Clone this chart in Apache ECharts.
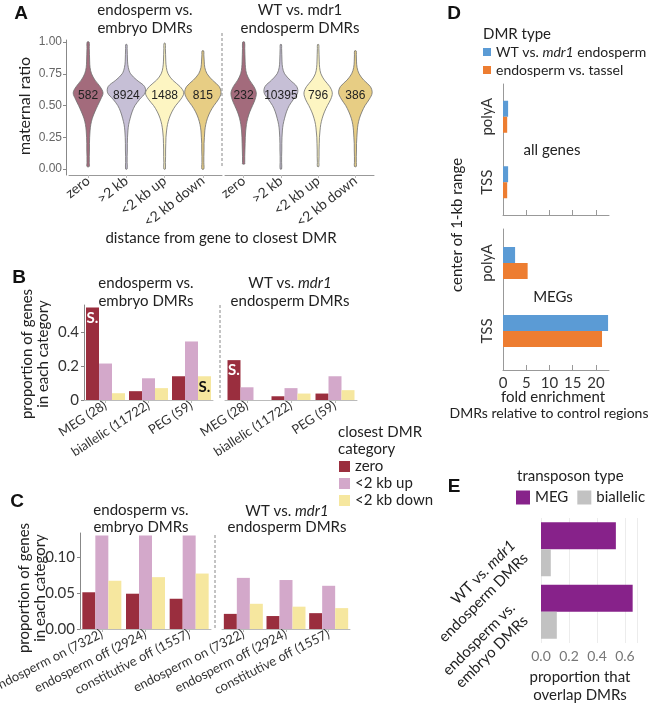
<!DOCTYPE html>
<html><head><meta charset="utf-8">
<script src="https://cdn.jsdelivr.net/npm/echarts@6/dist/echarts.min.js"></script>
<style>html,body{margin:0;padding:0;background:#fff}#c{width:652px;height:721px}</style>
</head><body><div id="c"></div>
<script>
const FONT = 'Lato, "Open Sans", sans-serif';
const NUM = '"Liberation Sans", Arial, sans-serif';

// ---------- Panel A: violins ----------
const violinCats = ['zero', '>2 kb', '<2 kb up', '<2 kb down'];
const violinLevels = [0,0.05,0.1,0.15,0.2,0.25,0.3,0.35,0.4,0.45,0.5,0.55,0.6,0.65,0.7,0.75,0.8,0.85,0.9,0.95,1.0];
const countsEmbryo = [582, 8924, 1488, 815];
const countsMdr1 = [232, 10395, 796, 386];
const rangeEmbryo = [[0.02,1.0],[0.0,0.98],[0.0,0.99],[0.0,0.93]];
const rangeMdr1 = [[0.04,1.0],[0.0,0.98],[0.02,0.98],[0.02,0.93]];
const densEmbryoZero = [0.06,0.06,0.06,0.07,0.07,0.08,0.10,0.14,0.22,0.35,0.50,0.66,0.78,0.62,0.36,0.18,0.10,0.08,0.07,0.06,0.05];
const densEmbryoFar  = [0.04,0.04,0.04,0.05,0.05,0.06,0.08,0.12,0.20,0.30,0.45,0.70,0.98,0.95,0.55,0.22,0.10,0.06,0.05,0.04,0.03];
const densEmbryoUp   = [0.04,0.04,0.05,0.05,0.06,0.07,0.10,0.15,0.24,0.38,0.58,0.85,1.00,0.80,0.42,0.18,0.09,0.06,0.05,0.04,0.03];
const densEmbryoDown = [0.05,0.05,0.05,0.06,0.06,0.08,0.10,0.15,0.24,0.38,0.58,0.82,0.95,0.85,0.50,0.22,0.10,0.07,0.05,0.04,0.03];
const densMdr1Zero = [0.06,0.06,0.06,0.07,0.08,0.09,0.11,0.15,0.22,0.33,0.48,0.62,0.68,0.55,0.32,0.16,0.10,0.08,0.07,0.06,0.05];
const densMdr1Far  = [0.04,0.04,0.04,0.05,0.05,0.06,0.08,0.12,0.20,0.30,0.45,0.68,0.90,0.85,0.50,0.20,0.09,0.06,0.05,0.04,0.03];
const densMdr1Up   = [0.04,0.04,0.05,0.05,0.06,0.07,0.10,0.14,0.22,0.34,0.50,0.68,0.76,0.62,0.34,0.15,0.08,0.06,0.05,0.04,0.03];
const densMdr1Down = [0.05,0.05,0.05,0.06,0.06,0.08,0.10,0.14,0.22,0.35,0.52,0.75,0.90,0.80,0.45,0.20,0.09,0.06,0.05,0.04,0.03];
const countLabelY = 0.58;
const violinColors = ['#a36b7c', '#c6bfd6', '#fdf5c2', '#e7cd84'];

// ---------- Panel B ----------
const geneClasses = ['MEG (28)', 'biallelic (11722)', 'PEG (59)'];
const closestCats = ['zero', '<2 kb up', '<2 kb down'];
const bEmbryoZero = [0.545, 0.052, 0.14];
const bEmbryoUp   = [0.215, 0.128, 0.345];
const bEmbryoDown = [0.04, 0.07, 0.14];
const bMdr1Zero = [0.235, 0.022, 0.038];
const bMdr1Up   = [0.075, 0.07, 0.14];
const bMdr1Down = [0, 0.038, 0.058];
const bSigEmbryo = [['zero', 0], ['<2 kb down', 2]];
const bSigMdr1 = [['zero', 0]];

// ---------- Panel C ----------
const expClasses = ['endosperm on (7322)', 'endosperm off (2924)', 'constitutive off (1557)'];
const cEmbryoZero = [0.051, 0.049, 0.042];
const cEmbryoUp   = [0.13, 0.13, 0.13];
const cEmbryoDown = [0.067, 0.072, 0.077];
const cMdr1Zero = [0.021, 0.018, 0.022];
const cMdr1Up   = [0.071, 0.068, 0.060];
const cMdr1Down = [0.035, 0.031, 0.029];

// ---------- Panel D ----------
const dRegions = ['TSS', 'polyA'];
const dTypes = ['WT vs. mdr1 endosperm', 'endosperm vs. tassel'];
const dAllMdr1 = [1.1, 1.1];
const dAllTassel = [0.9, 0.9];
const dMegMdr1 = [22.6, 2.6];
const dMegTassel = [21.3, 5.3];
const dTicks = [0, 5, 10, 15, 20];

// ---------- Panel E ----------
const eComparisons = ['endosperm vs. embryo DMRs', 'WT vs. mdr1 endosperm DMRs'];
const eTypes = ['MEG', 'biallelic'];
const eMEG = [0.655, 0.535];
const eBiallelic = [0.113, 0.07];
const eTicks = [0, 0.2, 0.4, 0.6];

const catColors = {'zero': '#9a2e3e', '<2 kb up': '#d3a8ca', '<2 kb down': '#f6e79f'};

function densAt(d, y) {
  const step = violinLevels[1] - violinLevels[0];
  const k = Math.min(Math.floor(y / step), d.length - 2);
  const t = (y - violinLevels[k]) / step;
  return d[k] * (1 - t) + d[k + 1] * t;
}

function violinSeries(gi, dens, ranges, counts) {
  return {
    type: 'custom', xAxisIndex: gi, yAxisIndex: gi,
    data: violinCats.map((c, i) => [i, countLabelY]),
    renderItem: function (params, api) {
      const i = api.value(0);
      const d = dens[i], lo = ranges[i][0], hi = ranges[i][1];
      const half = api.size([1, 0])[0] / 2;
      const cx = api.coord([i, 0])[0];
      const ys = [lo].concat(violinLevels.filter(y => y > lo && y < hi)).concat([hi]);
      const right = [], left = [];
      ys.forEach(y => {
        const w = densAt(d, y) * half;
        const py = api.coord([i, y])[1];
        right.push([cx + w, py]); left.push([cx - w, py]);
      });
      const pts = right.concat(left.reverse());
      const ly = api.coord([i, api.value(1)])[1];
      return {type: 'group', children: [
        {type: 'polygon', shape: {points: pts, smooth: 0.35}, style: {fill: violinColors[i], stroke: '#6e6e6e', lineWidth: 0.8}},
        {type: 'text', x: cx, y: ly, style: {text: String(counts[i]), align: 'center', verticalAlign: 'middle', fontSize: 12, fontFamily: NUM, fill: '#222'}}
      ]};
    }
  };
}

function barSeries(gi, name, vals, sig, sigColor, width) {
  const sigIdx = (sig || []).filter(s => s[0] === name).map(s => s[1]);
  return {
    type: 'bar', name: name, xAxisIndex: gi, yAxisIndex: gi, barWidth: width || 13, barGap: '0%',
    itemStyle: {color: catColors[name]},
    data: vals.map((v, i) => sigIdx.indexOf(i) >= 0 ? {value: v, label: {show: true, formatter: 'S.', position: 'insideTop', distance: 3, color: name === 'zero' ? '#fff' : '#111', fontSize: 15, fontWeight: 'bold', fontFamily: FONT}} : v)
  };
}

function catX(gi, cats, rot, fs, extra) {
  return Object.assign({
    gridIndex: gi, type: 'category', data: cats,
    axisLine: {show: true, onZero: false, lineStyle: {color: '#bbb'}},
    axisTick: {show: true, alignWithLabel: true, length: 3, lineStyle: {color: '#bbb'}},
    axisLabel: {rotate: rot, interval: 0, fontSize: fs, fontFamily: FONT, color: '#333', margin: 4},
    splitLine: {show: false}
  }, extra || {});
}
function valY(gi, min, max, ticks, fmt, show, extra) {
  return Object.assign({
    gridIndex: gi, type: 'value', min: min, max: max, show: show,
    axisLine: {show: true, onZero: false, lineStyle: {color: '#888'}},
    axisTick: {show: true, length: 3, customValues: ticks, lineStyle: {color: '#888'}},
    axisLabel: {customValues: ticks, formatter: fmt, fontSize: 15, fontFamily: FONT, color: '#333', margin: 5},
    splitLine: {show: false}
  }, extra || {});
}

const G = (l, t, w, h) => ({left: l, top: t, width: w, height: h, containLabel: false, outerBoundsMode: 'none'});

const T = (text, x, y, opts) => Object.assign({type: 'text', x: x, y: y, silent: true,
  style: Object.assign({text: text, align: 'center', verticalAlign: 'middle', fontSize: 14, fontFamily: FONT, fill: '#222'}, (opts && opts.style) || {})},
  opts && opts.rotation ? {rotation: opts.rotation} : {});
const L = (x, y1, y2) => ({type: 'line', silent: true, shape: {x1: x, y1: y1, x2: x, y2: y2}, style: {stroke: '#888', lineWidth: 1, lineDash: [3, 2]}});
const letter = (t, x, y) => T(t, x, y, {style: {fontSize: 19, fontWeight: 'bold', fontFamily: NUM, fill: '#111'}});
const italic15 = {i: {fontStyle: 'italic', fontSize: 15, fontFamily: FONT, fill: '#222'}};

const option = {
  animation: false,
  backgroundColor: '#fff',
  grid: [
    G(69, 40, 153, 135), G(225, 40, 149, 135),
    G(84, 305, 129, 95), G(225, 305, 132, 95),
    G(80, 533, 131, 96), G(222, 533, 128, 96),
    G(503, 84, 106, 131), G(503, 229, 106, 136),
    G(541, 518, 96, 125)
  ],
  xAxis: [
    catX(0, violinCats, 38, 14, {axisLine: {show: true, onZero: false, lineStyle: {color: '#999'}}}),
    catX(1, violinCats, 38, 14, {axisLine: {show: true, onZero: false, lineStyle: {color: '#999'}}}),
    catX(2, geneClasses, 33, 13),
    catX(3, geneClasses, 33, 13),
    catX(4, expClasses, 27, 13),
    catX(5, expClasses, 27, 13),
    {gridIndex: 6, type: 'value', min: 0, max: 22.8,
      axisLine: {show: true, onZero: false, lineStyle: {color: '#999'}},
      axisTick: {show: true, inside: true, length: 5, customValues: dTicks, lineStyle: {color: '#999'}},
      axisLabel: {show: false}, splitLine: {show: false}},
    {gridIndex: 7, type: 'value', min: 0, max: 22.8, offset: 5,
      axisLine: {show: true, onZero: false, lineStyle: {color: '#999'}},
      axisTick: {show: true, inside: true, length: 5, customValues: dTicks, lineStyle: {color: '#999'}},
      axisLabel: {customValues: dTicks, fontSize: 15, fontFamily: FONT, color: '#333', margin: 6}, splitLine: {show: false}},
    {gridIndex: 8, type: 'value', min: 0, max: 0.686, interval: 0.2,
      axisLine: {show: false}, axisTick: {show: false},
      axisLabel: {customValues: eTicks, formatter: v => v.toFixed(1), fontSize: 14, fontFamily: FONT, color: '#777', margin: 6},
      splitLine: {show: true, lineStyle: {color: '#ececec'}}}
  ],
  yAxis: [
    valY(0, -0.047, 1.016, [0, 0.25, 0.5, 0.75, 1], v => v.toFixed(2), true,
      {offset: 3, axisLabel: {customValues: [0, 0.25, 0.5, 0.75, 1], formatter: v => v.toFixed(2), fontSize: 12, fontFamily: NUM, color: '#666', margin: 4}}),
    valY(1, -0.047, 1.016, [], null, false),
    valY(2, 0, 0.56, [0, 0.2, 0.4], v => v === 0 ? '0' : v.toFixed(1), true),
    valY(3, 0, 0.56, [], null, false),
    valY(4, 0, 0.1333, [0, 0.05, 0.1], v => v.toFixed(2), true),
    valY(5, 0, 0.1333, [], null, false),
    {gridIndex: 6, type: 'category', data: dRegions,
      axisLine: {show: true, lineStyle: {color: '#999'}}, axisTick: {show: false},
      axisLabel: {rotate: 90, fontSize: 15, fontFamily: FONT, color: '#333', margin: 8}},
    {gridIndex: 7, type: 'category', data: dRegions,
      axisLine: {show: true, lineStyle: {color: '#999'}}, axisTick: {show: false},
      axisLabel: {rotate: 90, fontSize: 15, fontFamily: FONT, color: '#333', margin: 8}},
    {gridIndex: 8, type: 'category', data: eComparisons,
      axisLine: {show: false}, axisTick: {show: false}, splitLine: {show: false},
      axisLabel: {rotate: 45, interval: 0, margin: 22,
        formatter: v => v.indexOf('mdr1') >= 0 ? '{n|WT vs. }{i|mdr1}\n{n|endosperm DMRs}' : '{n|endosperm vs.}\n{n|embryo DMRs}',
        rich: {n: {fontSize: 15, fontFamily: FONT, color: '#222', lineHeight: 18}, i: {fontSize: 15, fontFamily: FONT, fontStyle: 'italic', color: '#222', lineHeight: 18}}}}
  ],
  legend: [
    {data: closestCats, orient: 'vertical', left: 339, top: 459, itemWidth: 11, itemHeight: 11, itemGap: 2, icon: 'rect', padding: 0,
      selectedMode: false, textStyle: {fontSize: 15, fontFamily: FONT, color: '#222', lineHeight: 14}},
    {data: dTypes, orient: 'vertical', left: 483, top: 45, itemWidth: 8, itemHeight: 8, itemGap: 4, icon: 'rect', selectedMode: false, padding: 0,
      formatter: n => n === dTypes[0] ? '{n|WT vs. }{i|mdr1}{n| endosperm}' : '{n|' + n + '}',
      textStyle: {rich: {n: {fontSize: 14, fontFamily: FONT, color: '#222'}, i: {fontSize: 14, fontFamily: FONT, fontStyle: 'italic', color: '#222'}}}},
    {data: eTypes, orient: 'horizontal', left: 516, top: 490, width: 200, itemWidth: 14, itemHeight: 14, itemGap: 9, icon: 'rect', selectedMode: false, padding: 0,
      textStyle: {fontSize: 15, fontFamily: FONT, color: '#222'}}
  ],
  series: [
    violinSeries(0, [densEmbryoZero, densEmbryoFar, densEmbryoUp, densEmbryoDown], rangeEmbryo, countsEmbryo),
    violinSeries(1, [densMdr1Zero, densMdr1Far, densMdr1Up, densMdr1Down], rangeMdr1, countsMdr1),
    barSeries(2, 'zero', bEmbryoZero, bSigEmbryo),
    barSeries(2, '<2 kb up', bEmbryoUp, bSigEmbryo),
    barSeries(2, '<2 kb down', bEmbryoDown, bSigEmbryo),
    barSeries(3, 'zero', bMdr1Zero, bSigMdr1),
    barSeries(3, '<2 kb up', bMdr1Up, bSigMdr1),
    barSeries(3, '<2 kb down', bMdr1Down, bSigMdr1),
    barSeries(4, 'zero', cEmbryoZero),
    barSeries(4, '<2 kb up', cEmbryoUp),
    barSeries(4, '<2 kb down', cEmbryoDown),
    barSeries(5, 'zero', cMdr1Zero),
    barSeries(5, '<2 kb up', cMdr1Up),
    barSeries(5, '<2 kb down', cMdr1Down),
    {type: 'bar', name: dTypes[0], xAxisIndex: 6, yAxisIndex: 6, data: dAllMdr1, barWidth: 16, barGap: '0%', itemStyle: {color: '#5b9bd5'}},
    {type: 'bar', name: dTypes[1], xAxisIndex: 6, yAxisIndex: 6, data: dAllTassel, barWidth: 16, barGap: '0%', itemStyle: {color: '#ed7d31'}},
    {type: 'bar', name: dTypes[0], xAxisIndex: 7, yAxisIndex: 7, data: dMegMdr1, barWidth: 16, barGap: '0%', itemStyle: {color: '#5b9bd5'}},
    {type: 'bar', name: dTypes[1], xAxisIndex: 7, yAxisIndex: 7, data: dMegTassel, barWidth: 16, barGap: '0%', itemStyle: {color: '#ed7d31'}},
    {type: 'bar', name: 'MEG', xAxisIndex: 8, yAxisIndex: 8, data: eMEG, barWidth: 27, barGap: '0%', itemStyle: {color: '#87228a'}},
    {type: 'bar', name: 'biallelic', xAxisIndex: 8, yAxisIndex: 8, data: eBiallelic, barWidth: 27, barGap: '0%', itemStyle: {color: '#c2c2c2'}}
  ],
  graphic: [
    letter('A', 21, 14), letter('B', 19, 278), letter('C', 17, 502), letter('D', 454, 14), letter('E', 454, 487),
    // Panel A
    T('endosperm vs.', 145, 10, {style: {fontSize: 15}}), T('embryo DMRs', 145, 28, {style: {fontSize: 15}}),
    T('WT vs. mdr1', 300, 10, {style: {fontSize: 15}}), T('endosperm DMRs', 300, 28, {style: {fontSize: 15}}),
    T('maternal ratio', 25, 106, {rotation: Math.PI / 2, style: {fontSize: 16}}),
    T('distance from gene to closest DMR', 221, 238, {style: {fontSize: 15}}),
    L(222, 33, 167),
    // Panel B
    T('endosperm vs.', 146, 283, {style: {fontSize: 15}}), T('embryo DMRs', 146, 301, {style: {fontSize: 15}}),
    T('WT vs. {i|mdr1}', 290, 283, {style: {fontSize: 15, rich: italic15}}),
    T('endosperm DMRs', 290, 301, {style: {fontSize: 15}}),
    T('proportion of genes', 27, 354, {rotation: Math.PI / 2, style: {fontSize: 15}}),
    T('in each category', 43, 354, {rotation: Math.PI / 2, style: {fontSize: 15}}),
    L(220, 305, 400),
    // Legend B/C
    T('closest DMR', 338, 432, {style: {align: 'left', fontSize: 15}}),
    T('category', 338, 449, {style: {align: 'left', fontSize: 15}}),
    // Panel C
    T('endosperm vs.', 141, 510, {style: {fontSize: 15}}), T('embryo DMRs', 141, 527, {style: {fontSize: 15}}),
    T('WT vs. {i|mdr1}', 287, 511, {style: {fontSize: 15, rich: italic15}}),
    T('endosperm DMRs', 287, 527, {style: {fontSize: 15}}),
    T('proportion of genes', 24, 588, {rotation: Math.PI / 2, style: {fontSize: 15}}),
    T('in each category', 40, 588, {rotation: Math.PI / 2, style: {fontSize: 15}}),
    L(215, 535, 628),
    // Panel D
    T('DMR type', 483, 34, {style: {align: 'left', fontSize: 15}}),
    T('all genes', 552, 150, {style: {fontSize: 15}}),
    T('MEGs', 553, 297, {style: {fontSize: 15}}),
    T('center of 1-kb range', 457, 225, {rotation: Math.PI / 2, style: {fontSize: 15}}),
    T('fold enrichment', 553, 397, {style: {fontSize: 15}}),
    T('DMRs relative to control regions', 549, 413, {style: {fontSize: 14}}),
    // Panel E
    T('transposon type', 517, 476, {style: {align: 'left', fontSize: 15}}),
    T('proportion that', 580, 677, {style: {fontSize: 15}}),
    T('overlap DMRs', 580, 695, {style: {fontSize: 15}})
  ]
};

const chart = echarts.init(document.getElementById('c'), null, {renderer: 'canvas', width: 652, height: 721});
chart.setOption(option);
</script>
</body></html>
